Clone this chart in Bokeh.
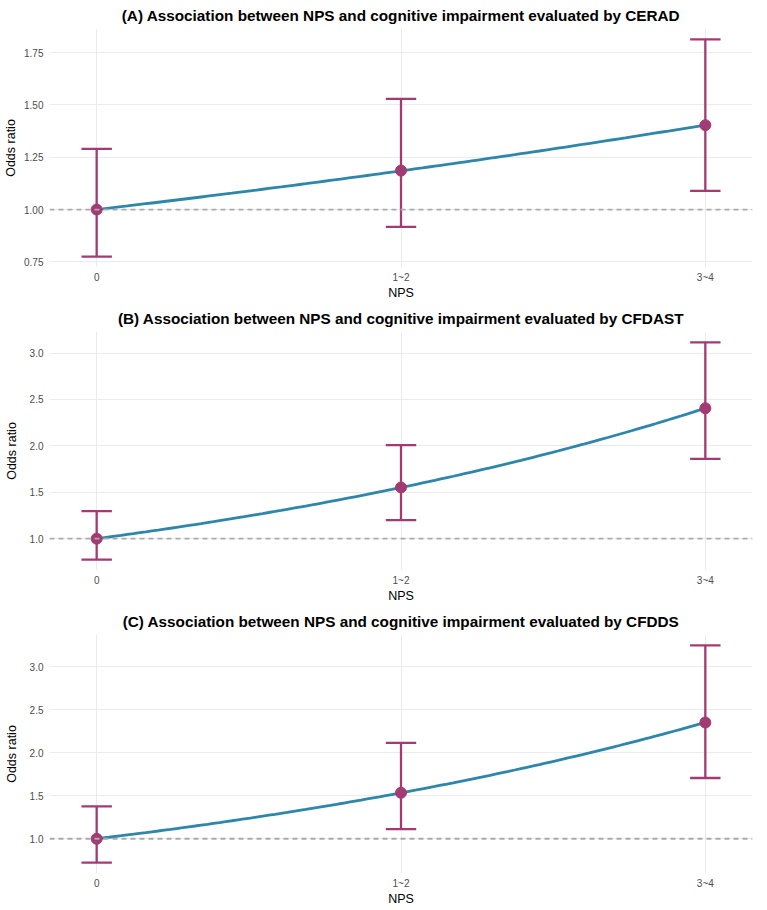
import numpy as np
from bokeh.plotting import figure
from bokeh.layouts import column
from bokeh.models import ColumnDataSource, FixedTicker, PrintfTickFormatter, Span
from bokeh.embed import file_html
from bokeh.resources import INLINE

# ---- data ----
nps_categories = ["0", "1~2", "3~4"]
nps_x = [0, 1, 2]

titles = [
    "(A) Association between NPS and cognitive impairment evaluated by CERAD",
    "(B) Association between NPS and cognitive impairment evaluated by CFDAST",
    "(C) Association between NPS and cognitive impairment evaluated by CFDDS",
]

or_cerad = [1.00, 1.186, 1.403]
lo_cerad = [0.775, 0.917, 1.089]
hi_cerad = [1.290, 1.529, 1.813]

or_cfdast = [1.00, 1.552, 2.405]
lo_cfdast = [0.774, 1.200, 1.860]
hi_cfdast = [1.297, 2.007, 3.115]

or_cfdds = [1.00, 1.535, 2.353]
lo_cfdds = [0.722, 1.112, 1.707]
hi_cfdds = [1.378, 2.116, 3.251]

yticks_cerad = [0.75, 1.00, 1.25, 1.50, 1.75]
yticks_cfdast = [1.0, 1.5, 2.0, 2.5, 3.0]
yticks_cfdds = [1.0, 1.5, 2.0, 2.5, 3.0]

LINE_COLOR = "#2E86AB"
POINT_COLOR = "#A23B72"
FONT = "Liberation Sans"


def make_panel(title, ors, lows, highs, yticks, fmt, label_standoff):
    x = np.array(nps_x, dtype=float)
    lo = np.array(lows)
    hi = np.array(highs)
    ymin = min(lo.min(), 1.0)
    ymax = hi.max()
    pad = 0.05 * (ymax - ymin)
    xpad = 0.155 * (x.max() - x.min()) / 2
    p = figure(frame_width=703, frame_height=239, output_backend="svg",
               toolbar_location=None,
               x_range=(x.min() - xpad, x.max() + xpad),
               y_range=(ymin - pad, ymax + pad),
               min_border_left=49, min_border_right=15,
               min_border_top=28, min_border_bottom=33)
    p.title.text = title
    p.title.align = "center"
    p.title.text_font = FONT
    p.title.text_font_size = "15.3px"
    p.title.text_font_style = "bold"
    p.title.text_color = "#000000"
    p.title.standoff = 9
    p.outline_line_color = None
    p.background_fill_color = "white"
    p.border_fill_color = "white"

    # exponential trend line (log-linear fit through OR=1 at reference)
    b = np.sum(x * np.log(ors)) / np.sum(x * x)
    xs = np.linspace(x.min(), x.max(), 100)
    p.line(xs, np.exp(b * xs), line_color=LINE_COLOR, line_width=2.8)

    src = ColumnDataSource(dict(x=x, y=ors, lo=lo, hi=hi,
                                xl=x - 0.05, xr=x + 0.05))
    p.segment(x0="x", y0="lo", x1="x", y1="hi", source=src,
              line_color=POINT_COLOR, line_width=2.3)
    p.segment(x0="xl", y0="lo", x1="xr", y1="lo", source=src,
              line_color=POINT_COLOR, line_width=2.3)
    p.segment(x0="xl", y0="hi", x1="xr", y1="hi", source=src,
              line_color=POINT_COLOR, line_width=2.3)
    p.scatter("x", "y", source=src, size=11, fill_color=POINT_COLOR,
              line_color=POINT_COLOR)

    p.add_layout(Span(location=1.0, dimension="width", line_color="#aaaaaa",
                      line_dash="5 4", line_width=1.8))

    p.xaxis.ticker = FixedTicker(ticks=nps_x)
    p.xaxis.major_label_overrides = {i: c for i, c in zip(nps_x, nps_categories)}
    p.yaxis.ticker = FixedTicker(ticks=yticks)
    p.yaxis.formatter = PrintfTickFormatter(format=fmt)
    p.xaxis.axis_label = "NPS"
    p.yaxis.axis_label = "Odds ratio"
    for ax in (p.xaxis, p.yaxis):
        ax.axis_line_color = None
        ax.major_tick_line_color = None
        ax.minor_tick_line_color = None
        ax.major_tick_out = 0
        ax.major_tick_in = 0
        ax.minor_tick_out = 0
        ax.minor_tick_in = 0
        ax.major_label_text_font = FONT
        ax.major_label_text_font_size = "10px"
        ax.major_label_text_color = "#4d4d4d"
        ax.axis_label_text_font = FONT
        ax.axis_label_text_font_size = "12.5px"
        ax.axis_label_text_font_style = "normal"
        ax.axis_label_text_color = "#000000"
    p.xaxis.major_label_standoff = 4
    p.yaxis.major_label_standoff = 6
    p.xaxis.axis_label_standoff = 0
    p.yaxis.axis_label_standoff = label_standoff

    p.xgrid.ticker = FixedTicker(ticks=nps_x)
    p.ygrid.ticker = FixedTicker(ticks=yticks)
    p.grid.grid_line_color = "#ebebeb"
    p.grid.grid_line_width = 1
    return p


pa = make_panel(titles[0], or_cerad, lo_cerad, hi_cerad, yticks_cerad, "%.2f", 3)
pb = make_panel(titles[1], or_cfdast, lo_cfdast, hi_cfdast, yticks_cfdast, "%.1f", 8)
pc = make_panel(titles[2], or_cfdds, lo_cfdds, hi_cfdds, yticks_cfdds, "%.1f", 8)

layout = column(pa, pb, pc, spacing=1)
open("out.html", "w").write(file_html(layout, INLINE))
